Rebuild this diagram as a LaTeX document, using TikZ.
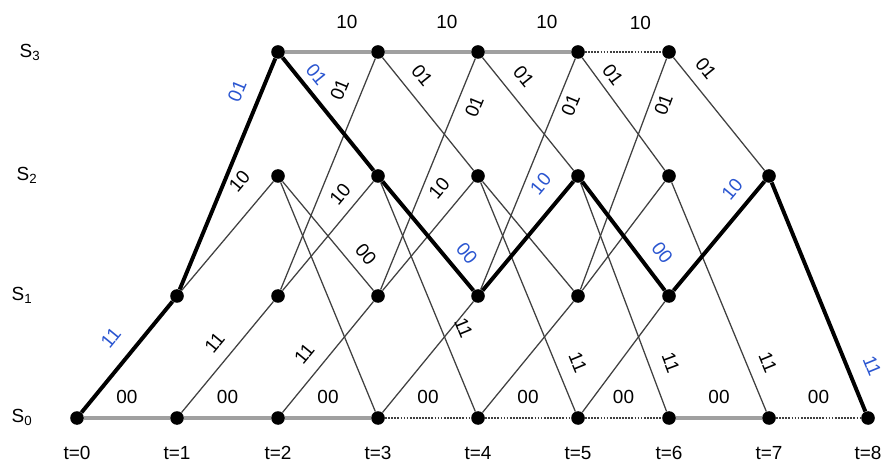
\documentclass[tikz,border=0pt]{standalone}
\usepackage{fontspec}
\setmainfont{Liberation Sans}
\usetikzlibrary{positioning}
\definecolor{trBlue}{HTML}{2A55D0}
\definecolor{trGray}{HTML}{A0A0A0}
\definecolor{trLine}{HTML}{404040}

\tikzset{
  state/.style={circle, fill=black, inner sep=0pt, minimum size=3.4mm},
  flatedge/.style={draw=trGray, line width=2.2pt},
  dotedge/.style={draw=trLine, line width=1.2pt, densely dotted},
  thinedge/.style={draw=trLine, line width=0.9pt},
  pathedge/.style={draw=black, line width=2.8pt},
  lab/.style={sloped, inner sep=0pt},
  blab/.style={lab, text=trBlue}
}

\begin{document}
\begin{tikzpicture}[x=0.25mm, y=-0.25mm, font=\fontsize{13.5}{16}\selectfont]
  \useasboundingbox (0,0) rectangle (885,470);

  % states per time step
  \foreach \ti/\x/\list in {0/77/{0}, 1/177/{0,1}, 2/278/{0,1,2,3}, 3/378/{0,1,2,3},
      4/478/{0,1,2,3}, 5/578/{0,1,2,3}, 6/669/{0,1,2,3}, 7/769/{0,2}, 8/868/{0}}{
    \foreach \si in \list{
      \pgfmathsetmacro{\y}{{418,296,176,52}[\si]}
      \node[state] (s\si t\ti) at (\x,\y) {};
    }
    \node (tl\ti) at (\x,453) {t=\ti};
  }
  \foreach \si/\x/\y in {0/22/417, 1/22/295, 2/27/175, 3/30/52}
    \node (row\si) at (\x,\y) {S\textsubscript{\si}};

  % horizontal branches
  \foreach \a/\b/\sty in {0/1/flatedge, 1/2/flatedge, 2/3/flatedge, 3/4/dotedge,
      4/5/dotedge, 5/6/dotedge, 6/7/flatedge, 7/8/dotedge}
    \draw[\sty] (s0t\a) -- node[lab, above=3.3mm] {00} (s0t\b);
  \foreach \a/\b/\sty in {2/3/flatedge, 3/4/flatedge, 4/5/flatedge, 5/6/dotedge}
    \draw[\sty] (s3t\a) -- node[lab, pos=.72, above=5.4mm] {10} (s3t\b);

  % other branches
  \foreach \a/\b in {s2t2/s0t3, s0t3/s1t4, s0t4/s1t5, s2t4/s1t5, s0t5/s1t6, s1t5/s2t6}
    \draw[thinedge] (\a) -- (\b);
  \foreach \a/\b/\lab/\p/\d in {s0t1/s1t2/11/.52/3mm, s0t2/s1t3/11/.41/3.25mm,
      s1t1/s2t2/10/.85/4.75mm, s1t2/s2t3/10/.78/2.5mm, s1t3/s2t4/10/.81/3.75mm,
      s1t2/s3t3/01/.83/3.5mm, s2t2/s1t3/00/.77/2.5mm,
      s3t3/s2t4/01/.27/3mm, s3t4/s2t5/01/.28/3.25mm, s3t5/s2t6/01/.23/1.75mm,
      s3t6/s2t7/01/.2/2.75mm, s2t3/s0t4/11/.67/3.5mm, s2t4/s0t5/11/.82/3.5mm,
      s2t5/s0t6/11/.82/3.5mm, s2t6/s0t7/11/.82/3.25mm}
    \draw[thinedge] (\a) -- node[lab, pos=\p, above=\d] {\lab} (\b);
  \foreach \a/\b/\p/\d in {s1t3/s3t4/.82/2.5mm, s1t4/s3t5/.82/1.5mm, s1t5/s3t6/.82/1.5mm}
    \draw[thinedge] (\a) -- node[lab, pos=\p, below=\d] {01} (\b);

  % decoded path
  \foreach \a/\b/\lab/\p/\d in {s0t0/s1t1/11/.53/4mm, s1t1/s3t2/01/.82/3.5mm,
      s3t2/s2t3/01/.24/1.75mm, s2t3/s1t4/00/.77/2.5mm, s1t4/s2t5/10/.84/3.75mm,
      s2t5/s1t6/00/.77/3mm, s1t6/s2t7/10/.81/2.75mm, s2t7/s0t8/11/.84/3.75mm}
    \draw[pathedge] (\a) -- node[blab, pos=\p, above=\d] {\lab} (\b);
\end{tikzpicture}
\end{document}
